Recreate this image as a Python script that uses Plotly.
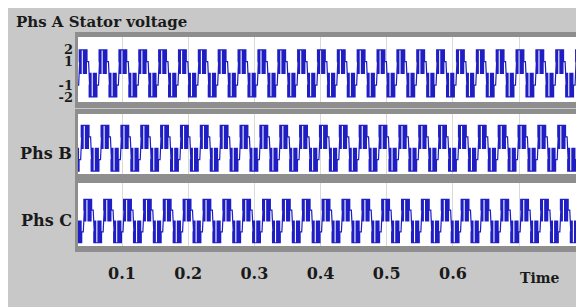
import numpy as np
import plotly.graph_objects as go

# ---------------- data ----------------
x_range = [0.0335, 0.798]
x_tick_vals = [0.1, 0.2, 0.3, 0.4, 0.5, 0.6, 0.7]
x_tick_text = ["0.1", "0.2", "0.3", "0.4", "0.5", "0.6", ""]
y_tick_vals_a = [2, 1, -1, -2]
y_tick_text_a = ["2", "1", "-1", "-2"]

period = 0.03                       # one fundamental cycle (s)
phase_start = {"A": 0.0045, "B": 0.0075, "C": 0.0115}   # start of positive half-cycle
# switching pattern of one positive half-cycle (fraction of half period) and its levels
half_edges = [0.0, 0.06, 0.11, 0.16, 0.21, 0.25, 0.48, 0.54, 0.60, 0.66, 0.72, 0.78, 0.84, 1.0]
half_levels = [1, 2, 0, 2, 0, 2, 0, 2, 0, 2, 0, 2, 1]
slant = 0.10                        # fraction of half period used by the zero crossing

panel_names = ["Phs B", "Phs C"]

# ---------------- helpers ----------------
OFF = 8                 # page body margin in the browser
W, H = 584 - OFF, 307 - OFF


def fx(px):
    return (px - OFF) / W


def fy(py):
    return 1 - (py - OFF) / H


def phase_wave(t0):
    ts, vs = [], []
    half = period / 2
    k0 = int(np.floor((x_range[0] - t0) / period)) - 1
    k1 = int(np.ceil((x_range[1] - t0) / period)) + 1
    for k in range(k0, k1):
        for sign, off in ((1, 0.0), (-1, half)):
            base = t0 + k * period + off
            for i, lev in enumerate(half_levels):
                s = half_edges[i] + (slant if i == 0 else 0.0)
                e = half_edges[i + 1]
                ts += [base + s * half, base + e * half]
                vs += [sign * lev, sign * lev]
    return ts, vs


fig = go.Figure()

panels = {"A": (37, 102), "B": (114, 174), "C": (183, 246)}
y_ranges = {"A": [-2.43, 3.1], "B": [-2.25, 3.0], "C": [-2.3, 3.5]}
left_px = 78
FONT = "DejaVu Serif"
TXT = "#1a1a1a"

shapes = []
for idx, key in enumerate(["A", "B", "C"]):
    top, bot = panels[key]
    shapes.append(dict(type="rect", xref="paper", yref="paper", x0=fx(75), x1=1.01,
                       y0=fy(bot + 6), y1=fy(top - 5),
                       fillcolor="#8e8e8e", line=dict(width=0), layer="below"))
    shapes.append(dict(type="rect", xref="paper", yref="paper", x0=fx(left_px), x1=1.01,
                       y0=fy(bot), y1=fy(top),
                       fillcolor="#ffffff", line=dict(width=0), layer="below"))
    t, v = phase_wave(phase_start[key])
    sfx = "" if idx == 0 else str(idx + 1)
    fig.add_trace(go.Scatter(x=t, y=v, mode="lines", xaxis="x" + sfx, yaxis="y" + sfx,
                             line=dict(color="#1e1ec4", width=1.2), showlegend=False,
                             hoverinfo="skip"))
    xa = dict(domain=[fx(left_px), 1], range=x_range, tickvals=x_tick_vals,
              showgrid=True, gridcolor="#d9d9d9", gridwidth=1, zeroline=False,
              showline=False, fixedrange=True, automargin=False, anchor="y" + sfx)
    if key == "C":
        xa.update(ticktext=x_tick_text, showticklabels=True, ticks="outside",
                  ticklen=0, ticklabelstandoff=13,
                  tickfont=dict(family=FONT, size=16, color=TXT, weight="bold"))
    else:
        xa.update(showticklabels=False)
    ya = dict(domain=[fy(bot), fy(top)], range=y_ranges[key], showgrid=False,
              zeroline=False, showline=False, fixedrange=True, automargin=False,
              anchor="x" + sfx)
    if key == "A":
        ya.update(tickvals=y_tick_vals_a, ticktext=y_tick_text_a, showticklabels=True,
                  ticks="", ticklabelstandoff=4,
                  tickfont=dict(family=FONT, size=13, color=TXT, weight="bold"))
    else:
        ya.update(showticklabels=False)
    fig.update_layout(**{"xaxis" + sfx: xa, "yaxis" + sfx: ya})

annotations = [
    dict(text="Phs A Stator voltage", x=fx(14), y=fy(22), xref="paper", yref="paper",
         xanchor="left", yanchor="middle", showarrow=False,
         font=dict(family=FONT, size=15, color=TXT, weight="bold")),
    dict(text=panel_names[0], x=fx(74), y=fy(153), xref="paper", yref="paper",
         xanchor="right", yanchor="middle", showarrow=False,
         font=dict(family=FONT, size=16, color=TXT, weight="bold")),
    dict(text=panel_names[1], x=fx(74), y=fy(220), xref="paper", yref="paper",
         xanchor="right", yanchor="middle", showarrow=False,
         font=dict(family=FONT, size=16, color=TXT, weight="bold")),
    dict(text="Time", x=fx(540), y=fy(278), xref="paper", yref="paper",
         xanchor="center", yanchor="middle", showarrow=False,
         font=dict(family=FONT, size=14, color=TXT, weight="bold")),
]

fig.update_layout(width=W, height=H, margin=dict(l=0, r=0, t=0, b=0),
                  paper_bgcolor="#c8c8c8", plot_bgcolor="rgba(0,0,0,0)",
                  shapes=shapes, annotations=annotations, showlegend=False)

fig.write_html("out.html", config={"displayModeBar": False})
